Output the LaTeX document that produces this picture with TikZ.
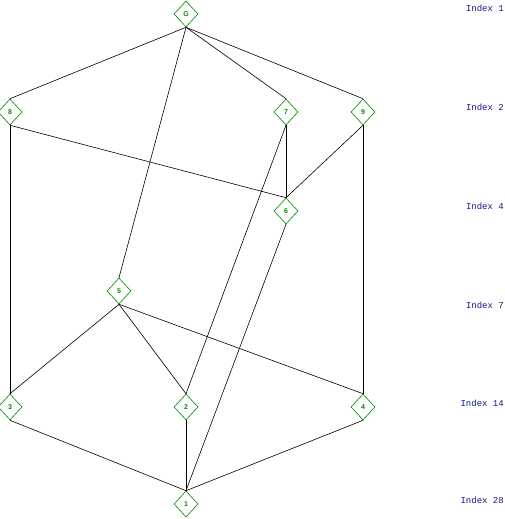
\documentclass[tikz,border=0pt]{standalone}
\usepackage{fontspec}
\setmainfont{Liberation Sans}
\newfontfamily\idxfont{Liberation Mono}
\usetikzlibrary{shapes.geometric}
\definecolor{nodegreen}{RGB}{0,140,0}
\definecolor{idxblue}{RGB}{20,20,140}
\tikzset{
  vert/.style={diamond, draw=nodegreen, fill=white, line width=0.6pt, inner sep=0pt,
    minimum width=24pt, minimum height=26pt, text=nodegreen,
    font=\fontsize{7}{7}\selectfont\bfseries},
  edge/.style={draw=black, line width=0.6pt},
  idx/.style={anchor=east, text=idxblue, inner sep=0pt, font=\idxfont\fontsize{9}{9}\selectfont}
}
\begin{document}
\begin{tikzpicture}[x=1pt,y=-1pt]
\useasboundingbox (0,0) rectangle (504,519);
\node[vert] (G) at (186,14) {G};
\node[vert] (n8) at (10,112) {8};
\node[vert] (n7) at (286,112) {7};
\node[vert] (n9) at (363,112) {9};
\node[vert] (n6) at (286,211) {6};
\node[vert] (n5) at (119,291) {5};
\node[vert] (n3) at (10,407) {3};
\node[vert] (n2) at (186,407) {2};
\node[vert] (n4) at (363,407) {4};
\node[vert] (n1) at (186,504) {1};
\begin{scope}[on background layer/.style={}]
\end{scope}
\foreach \a/\b in {G/n8,G/n7,G/n9,G/n5,n8/n6,n8/n3,n7/n6,n7/n2,n9/n6,n9/n4,n6/n1,n5/n3,n5/n2,n5/n4,n3/n1,n2/n1,n4/n1}
  \draw[edge] (\a.south) -- (\b.north);
\node[idx] (i1) at (504,8) {Index 1};
\node[idx] (i2) at (504,107) {Index 2};
\node[idx] (i4) at (504,206) {Index 4};
\node[idx] (i7) at (504,305) {Index 7};
\node[idx] (i14) at (504,403) {Index 14};
\node[idx] (i28) at (504,500) {Index 28};
\end{tikzpicture}
\end{document}
